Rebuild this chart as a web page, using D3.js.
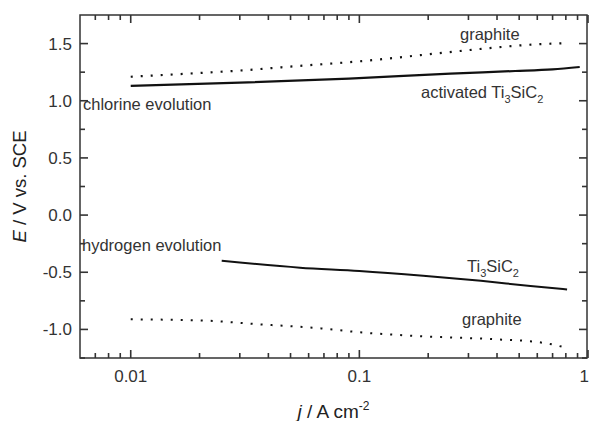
<!DOCTYPE html>
<html lang="en">
<head>
  <meta charset="UTF-8">
  <title>Polarization curves: Ti3SiC2 vs graphite</title>
  <script src="https://d3js.org/d3.v7.min.js"></script>
  <style>
    body { margin: 0; background: #fff; }
    svg { font-family: "Liberation Sans", Arial, sans-serif; }
    .tick-label { fill: #333; font-size: 17px; }
    .note { fill: #333; font-size: 16.5px; }
  </style>
</head>
<body>
<script>
  // Data (j in A cm^-2, E in V vs. SCE)
  const graphiteAnodicJ = [0.01, 0.02, 0.03, 0.05, 0.1, 0.2, 0.35, 0.6, 0.8];
  const graphiteAnodicE = [1.21, 1.243, 1.264, 1.299, 1.345, 1.406, 1.456, 1.494, 1.503];

  const activatedJ = [0.01, 0.03, 0.09, 0.25, 0.48, 0.7, 0.92];
  const activatedE = [1.13, 1.158, 1.194, 1.238, 1.26, 1.275, 1.295];

  const ti3sic2J = [0.025, 0.055, 0.1, 0.19, 0.34, 0.56, 0.81];
  const ti3sic2E = [-0.40, -0.46, -0.488, -0.53, -0.575, -0.62, -0.65];

  const graphiteCathodicJ = [0.01, 0.02, 0.037, 0.068, 0.1, 0.18, 0.4, 0.6, 0.73, 0.8];
  const graphiteCathodicE = [-0.912, -0.921, -0.956, -0.991, -1.025, -1.058, -1.087, -1.11, -1.14, -1.16];

  const xMajor = [0.01, 0.1, 1];
  const xLabels = ['0.01', '0.1', '1'];
  const yMajor = [-1.0, -0.5, 0.0, 0.5, 1.0, 1.5];
  const yLabels = ['-1.0', '-0.5', '0.0', '0.5', '1.0', '1.5'];
  const yMinor = [-1.25, -0.75, -0.25, 0.25, 0.75, 1.25];

  // Layout
  const width = 589, height = 421;
  const margin = {top: 15, right: 1, bottom: 63, left: 80};

  const svg = d3.select('body').append('svg')
    .attr('width', width)
    .attr('height', height);

  const x = d3.scaleLog()
    .domain([0.006, 1])
    .range([margin.left, width - margin.right]);

  const y = d3.scaleLinear()
    .domain([-1.25, 1.75])
    .range([height - margin.bottom, margin.top]);

  const x0 = margin.left, x1 = width - margin.right - 1;
  const y0 = height - margin.bottom, y1 = margin.top;

  // frame
  svg.append('rect')
    .attr('x', x0).attr('y', y1)
    .attr('width', x1 - x0).attr('height', y0 - y1)
    .attr('fill', 'none')
    .attr('stroke', '#333')
    .attr('stroke-width', 1.5);

  // log minor ticks (2..9 of each decade inside the domain)
  const xMinor = [];
  [0.001, 0.01, 0.1].forEach(dec => {
    for (let k = 2; k <= 9; k++) {
      const v = +(dec * k).toPrecision(3);
      if (v > 0.006 && v < 1) xMinor.push(v);
    }
  });

  const ticks = svg.append('g')
    .attr('stroke', '#333')
    .attr('stroke-width', 1.6);

  // bottom + top ticks, pointing inward
  const xTick = (vals, len) => {
    vals.forEach(v => {
      ticks.append('line')
        .attr('x1', x(v)).attr('x2', x(v))
        .attr('y1', y0).attr('y2', y0 - len);
      ticks.append('line')
        .attr('x1', x(v)).attr('x2', x(v))
        .attr('y1', y1).attr('y2', y1 + len);
    });
  };
  xTick(xMajor, 8);
  xTick(xMinor, 5);

  // left + right ticks, pointing inward
  const yTick = (vals, len) => {
    vals.forEach(v => {
      ticks.append('line')
        .attr('x1', x0).attr('x2', x0 + len)
        .attr('y1', y(v)).attr('y2', y(v));
      ticks.append('line')
        .attr('x1', x1).attr('x2', x1 - len)
        .attr('y1', y(v)).attr('y2', y(v));
    });
  };
  yTick(yMajor, 8);
  yTick(yMinor, 5);

  // tick labels
  xMajor.forEach((v, i) => {
    const last = i === xMajor.length - 1;
    svg.append('text').attr('class', 'tick-label')
      .attr('x', last ? width : x(v))
      .attr('y', 382)
      .attr('text-anchor', last ? 'end' : 'middle')
      .text(xLabels[i]);
  });
  yMajor.forEach((v, i) => {
    svg.append('text').attr('class', 'tick-label')
      .attr('x', 72)
      .attr('y', y(v) + 6)
      .attr('text-anchor', 'end')
      .text(yLabels[i]);
  });

  // curves
  const line = d3.line()
    .x(d => x(d[0]))
    .y(d => y(d[1]))
    .curve(d3.curveMonotoneX);

  const zip = (a, b) => a.map((v, i) => [v, b[i]]);

  const series = [
    {pts: zip(graphiteAnodicJ, graphiteAnodicE), dash: '2 8', w: 2.2},
    {pts: zip(activatedJ, activatedE), dash: null, w: 2.2},
    {pts: zip(ti3sic2J, ti3sic2E), dash: null, w: 2},
    {pts: zip(graphiteCathodicJ, graphiteCathodicE), dash: '2 8', w: 2}
  ];

  series.forEach(s => {
    svg.append('path')
      .attr('d', line(s.pts))
      .attr('fill', 'none')
      .attr('stroke', '#111')
      .attr('stroke-width', s.w)
      .attr('stroke-dasharray', s.dash);
  });

  // annotations
  const note = (px, py, parts) => {
    const t = svg.append('text').attr('class', 'note').attr('x', px).attr('y', py);
    parts.forEach(p => {
      if (p.sub) {
        t.append('tspan').attr('dy', 5).style('font-size', '11px').text(p.t);
      } else {
        t.append('tspan').attr('dy', p.back ? -5 : 0).text(p.t);
      }
    });
  };

  note(460, 40, [{t: 'graphite'}]);
  note(421, 98, [{t: 'activated Ti'}, {t: '3', sub: true}, {t: 'SiC', back: true}, {t: '2', sub: true}]);
  note(83, 110, [{t: 'chlorine evolution'}]);
  note(82, 251, [{t: 'hydrogen evolution'}]);
  note(467, 272, [{t: 'Ti'}, {t: '3', sub: true}, {t: 'SiC', back: true}, {t: '2', sub: true}]);
  note(462, 325, [{t: 'graphite'}]);

  // axis titles
  const xt = svg.append('text')
    .attr('x', (x0 + x1) / 2).attr('y', 418)
    .attr('text-anchor', 'middle')
    .style('font-size', '19px').style('fill', '#222');
  xt.append('tspan').style('font-style', 'italic').text('j');
  xt.append('tspan').text(' / A cm');
  xt.append('tspan').attr('dy', -8).style('font-size', '12px').text('-2');

  const yt = svg.append('text')
    .attr('transform', `translate(26,${(y0 + y1) / 2}) rotate(-90)`)
    .attr('text-anchor', 'middle')
    .style('font-size', '18.5px').style('fill', '#222');
  yt.append('tspan').style('font-style', 'italic').text('E');
  yt.append('tspan').text(' / V vs. SCE');
</script>
</body>
</html>
